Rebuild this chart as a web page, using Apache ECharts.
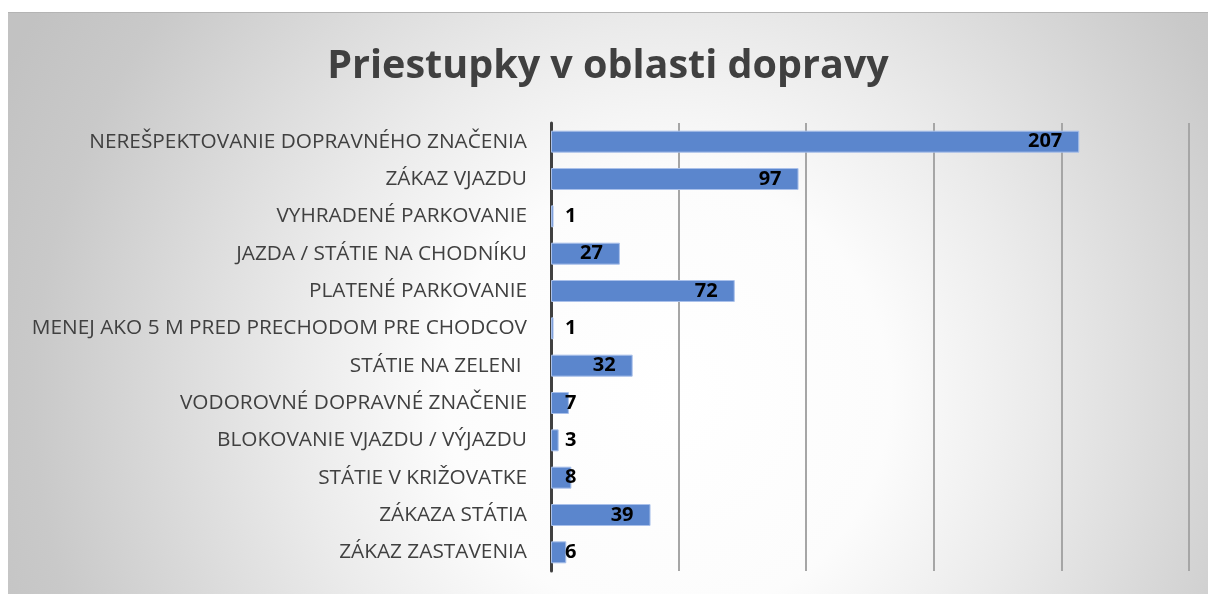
<!DOCTYPE html>
<html>
<head>
<meta charset="utf-8">
<script src="https://cdn.jsdelivr.net/npm/echarts@6/dist/echarts.min.js"></script>
<style>
  html, body { margin: 0; padding: 0; background: #fff; }
  #chart { position: absolute; left: 8px; top: 12px; width: 1200px; height: 582px; border-top: 1px solid #b4b4b4; box-sizing: border-box; }
</style>
</head>
<body>
<div id="chart"></div>
<script>
var categories = [
  'NEREŠPEKTOVANIE DOPRAVNÉHO ZNAČENIA',
  'ZÁKAZ VJAZDU',
  'VYHRADENÉ PARKOVANIE',
  'JAZDA / STÁTIE NA CHODNÍKU',
  'PLATENÉ PARKOVANIE',
  'MENEJ AKO 5 M PRED PRECHODOM PRE CHODCOV',
  'STÁTIE NA ZELENI ',
  'VODOROVNÉ DOPRAVNÉ ZNAČENIE',
  'BLOKOVANIE VJAZDU / VÝJAZDU',
  'STÁTIE V KRIŽOVATKE',
  'ZÁKAZA STÁTIA',
  'ZÁKAZ ZASTAVENIA'
]
var counts = [207, 97, 1, 27, 72, 1, 32, 7, 3, 8, 39, 6]
var xTicks = [0, 50, 100, 150, 200, 250]

var chart = echarts.init(document.getElementById('chart'))

// small bars get their label pushed out past the axis like in Excel
var barData = counts.map(function(v) {
  return {
    value: v,
    label: v < 10 ? { position: 'insideLeft', distance: 14 } : { position: 'insideRight', distance: 17 }
  }
})

chart.setOption({
  backgroundColor: {
    type: 'radial',
    x: 0.55,
    y: 0.66,
    r: 1.27,
    colorStops: [
      { offset: 0, color: '#ffffff' },
      { offset: 0.3, color: '#fcfcfc' },
      { offset: 0.5, color: '#ebebeb' },
      { offset: 0.86, color: '#c9c9c9' },
      { offset: 1, color: '#c2c2c2' }
    ]
  },
  title: {
    text: 'Priestupky v oblasti dopravy',
    left: 'center',
    top: 29,
    padding: [5, 0, 5, 10],
    textStyle: {
      fontFamily: 'Open Sans',
      fontWeight: 'bold',
      fontSize: 39.5,
      color: '#404040'
    }
  },
  grid: {
    left: 543,
    right: 19,
    top: 110,
    bottom: 23
  },
  xAxis: {
    type: 'value',
    min: xTicks[0],
    max: xTicks[xTicks.length - 1],
    interval: xTicks[1] - xTicks[0],
    axisLabel: { show: false },
    axisLine: { show: false },
    axisTick: { show: false },
    splitLine: { lineStyle: { color: '#a6a6a6', width: 2 } }
  },
  yAxis: {
    type: 'category',
    inverse: true,
    data: categories,
    axisTick: { show: false },
    axisLine: { lineStyle: { color: '#404040', width: 3 } },
    axisLabel: {
      margin: 24,
      fontFamily: 'Open Sans',
      fontSize: 20.8,
      color: '#404040'
    }
  },
  series: [{
    type: 'bar',
    data: barData,
    barWidth: 22,
    itemStyle: {
      color: '#5b86cd',
      borderColor: '#a9c0ea',
      borderWidth: 1
    },
    label: {
      show: true,
      fontFamily: 'Open Sans',
      fontWeight: 'bold',
      fontSize: 20,
      color: '#000'
    },
    animation: false
  }]
})
</script>
</body>
</html>
